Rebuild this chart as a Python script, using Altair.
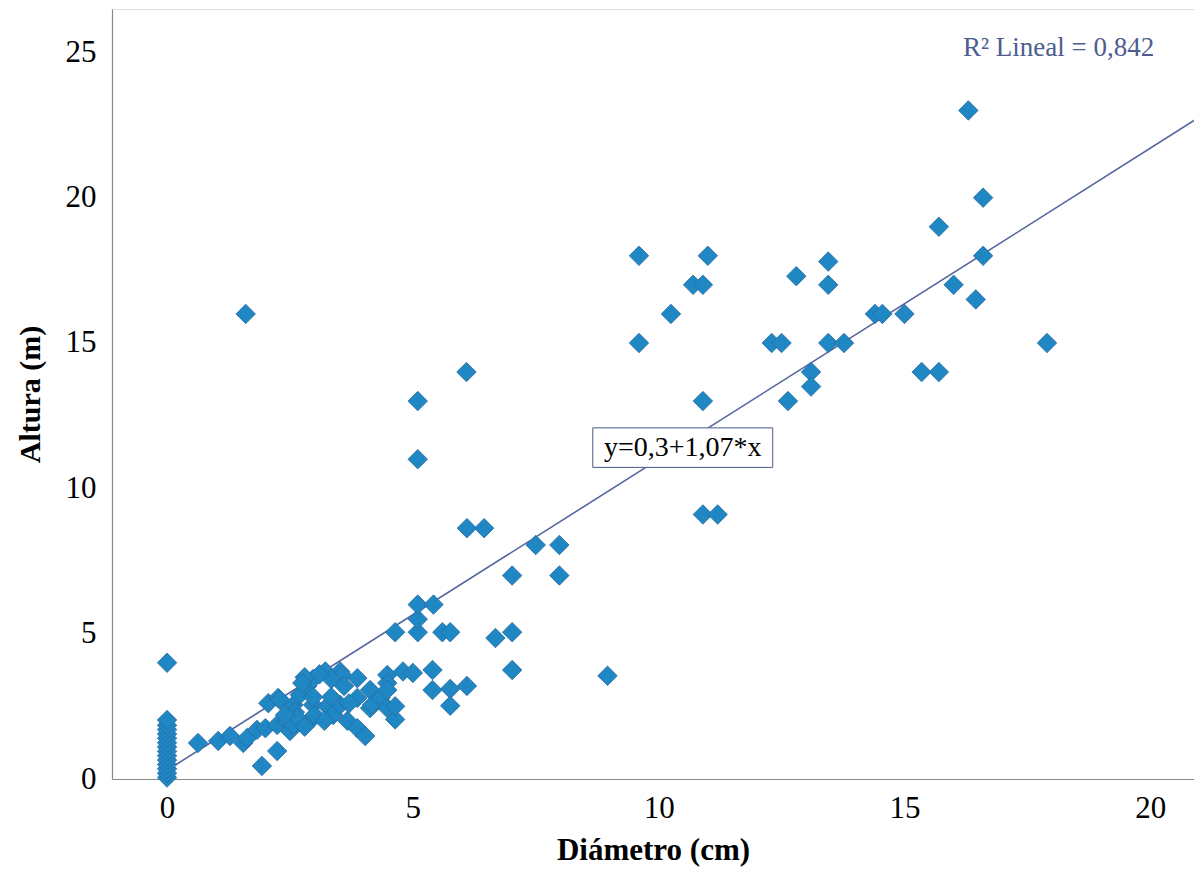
import altair as alt
import pandas as pd

# Scatter data (Diámetro cm, Altura m)
diam = [
    0, 0, 0, 0, 0, 0, 0, 0, 0, 0, 0, 0, 0, 0, 0,
    0.63, 1.04, 1.28, 1.55, 1.63, 1.83, 2.0, 2.24, 2.06, 2.26, 2.44, 2.5, 2.24, 1.93, 1.6,
    2.3, 2.57, 2.57, 2.7, 2.85, 2.91, 2.97, 3.22, 3.26, 3.38, 3.52, 3.52, 3.56, 3.67,
    3.87, 3.87, 3.87, 4.03, 4.13, 4.13, 4.17, 4.34, 4.48, 4.48, 4.48, 4.48, 4.64, 4.64,
    4.64, 4.8, 5.0, 5.1, 5.1, 5.1, 5.1, 5.1, 5.42, 5.4, 5.4, 5.6, 5.76, 5.76, 5.76,
    6.1, 6.09, 6.1, 6.45, 6.68, 7.02, 7.02, 7.02, 7.5, 7.98, 7.98, 8.96,
    2.97, 3.34, 2.97, 3.34, 2.8, 2.75, 3.1, 3.6, 3.7, 3.0, 2.6, 2.65, 2.8, 3.2, 2.4,
    9.6, 9.6, 10.25, 10.7, 10.9, 11.0, 10.9, 10.9, 11.2, 12.3, 12.5, 12.63, 12.8,
    13.1, 13.1, 13.45, 13.45, 13.45, 13.77, 14.4, 14.55, 15.0, 15.35, 15.7, 15.7,
    16.0, 16.3, 16.45, 16.6, 16.6, 17.9,
]
altura = [
    0.05, 0.2, 0.35, 0.5, 0.65, 0.8, 0.95, 1.1, 1.25, 1.4, 1.55, 1.7, 1.85, 2.03, 4.0,
    1.24, 1.31, 1.48, 1.24, 1.41, 1.69, 1.75, 1.86, 2.61, 2.79, 2.0, 1.65, 0.96, 0.45, 16.0,
    2.72, 2.55, 1.86, 2.9, 3.2, 2.0, 2.55, 3.7, 2.5, 2.2, 2.55, 3.7, 3.58, 2.0,
    3.47, 2.79, 1.75, 1.48, 3.06, 2.44, 2.55, 2.79, 3.58, 3.3, 2.44, 3.06, 2.05, 5.05,
    2.5, 3.7, 3.65, 5.05, 5.5, 6.0, 11.0, 13.0, 6.0, 3.75, 3.06, 5.05, 5.05, 3.1, 2.52,
    3.2, 14.0, 8.63, 8.63, 4.85, 5.05, 3.75, 7.0, 8.05, 8.05, 7.0, 3.55,
    3.44, 3.44, 2.82, 2.82, 3.5, 3.3, 3.6, 3.2, 2.6, 2.2, 2.3, 2.1, 1.8, 2.0, 2.2,
    18.0, 15.0, 16.0, 17.0, 17.0, 18.0, 13.0, 9.1, 9.1, 15.0, 15.0, 13.0, 17.3,
    14.0, 13.5, 17.8, 17.0, 15.0, 15.0, 16.0, 16.0, 16.0, 14.0, 14.0, 19.0,
    17.0, 23.0, 16.5, 18.0, 20.0, 15.0,
]

# Fit line coefficients (as printed on the chart)
intercept = 0.3
slope = 1.07
fit_x = [0, 21.5]

x_ticks = [0, 5, 10, 15, 20]
y_ticks = [0, 5, 10, 15, 20, 25]

X_DOMAIN = [-1.12, 20.89]
Y_DOMAIN = [0, 26.49]

FONT = "Liberation Serif"
BLUE_FILL = "#1f87c4"
BLUE_EDGE = "#2b6a9e"
LINE_COL = "#5766a0"

pts = pd.DataFrame({"Diámetro": diam, "Altura": altura})
fit = pd.DataFrame({"fx": fit_x})

xscale = alt.Scale(domain=X_DOMAIN, nice=False, zero=False)
yscale = alt.Scale(domain=Y_DOMAIN, nice=False, zero=False)

xaxis = alt.Axis(
    values=x_ticks, title="Diámetro (cm)", grid=False, ticks=False, tickSize=0,
    labelFont=FONT, labelFontSize=31, labelColor="black", labelPadding=14,
    labelFlush=False, labelOverlap=False,
    titleFont=FONT, titleFontSize=31, titleFontWeight="bold", titleColor="black",
    titlePadding=12, domainColor="#888888", domainWidth=1.2,
)
yaxis = alt.Axis(
    values=y_ticks, title="Altura (m)", grid=False, ticks=False, tickSize=0,
    labelFont=FONT, labelFontSize=31, labelColor="black", labelPadding=16,
    labelFlush=False, labelOverlap=False,
    titleFont=FONT, titleFontSize=30, titleFontWeight="bold", titleColor="black",
    titlePadding=20, domainColor="#888888", domainWidth=1.2,
)

line = alt.Chart(fit).transform_calculate(
    fy=f"{intercept} + {slope} * datum.fx"
).mark_line(color=LINE_COL, strokeWidth=1.6, clip=True).encode(
    x=alt.X("fx:Q", scale=xscale, axis=xaxis),
    y=alt.Y("fy:Q", scale=yscale, axis=yaxis),
)

points = alt.Chart(pts).mark_point(
    shape="diamond", filled=True, size=380, fill=BLUE_FILL, stroke=BLUE_EDGE,
    strokeWidth=0.8, opacity=1,
).encode(
    x=alt.X("Diámetro:Q", scale=xscale),
    y=alt.Y("Altura:Q", scale=yscale),
)

# Equation label box
box_df = pd.DataFrame({"x1": [8.66], "x2": [12.32], "y1": [10.72], "y2": [12.08]})
box = alt.Chart(box_df).mark_rect(fill="white", stroke="#4a5a8a", strokeWidth=1).encode(
    x=alt.X("x1:Q", scale=xscale), x2="x2:Q",
    y=alt.Y("y1:Q", scale=yscale), y2="y2:Q",
)
eq_df = pd.DataFrame({"x": [10.49], "y": [11.4], "t": ["y=0,3+1,07*x"]})
eq = alt.Chart(eq_df).mark_text(
    font=FONT, fontSize=28, color="black", align="center", baseline="middle",
).encode(x=alt.X("x:Q", scale=xscale), y=alt.Y("y:Q", scale=yscale), text="t:N")

r2_df = pd.DataFrame({"x": [16.19], "y": [25.15], "t": ["R² Lineal = 0,842"]})
r2 = alt.Chart(r2_df).mark_text(
    font=FONT, fontSize=27, color="#4d5d8f", align="left", baseline="middle",
).encode(x=alt.X("x:Q", scale=xscale), y=alt.Y("y:Q", scale=yscale), text="t:N")

chart = alt.layer(line, points, box, eq, r2).properties(
    width=1082, height=770,
    autosize=alt.AutoSizeParams(type="none"),
    padding={"left": 104, "top": 1, "right": 0, "bottom": 100},
).configure_view(stroke="transparent", strokeWidth=0, strokeOpacity=0).configure(background="white")

chart.save("out.html", embed_options={"renderer": "svg", "actions": False})
